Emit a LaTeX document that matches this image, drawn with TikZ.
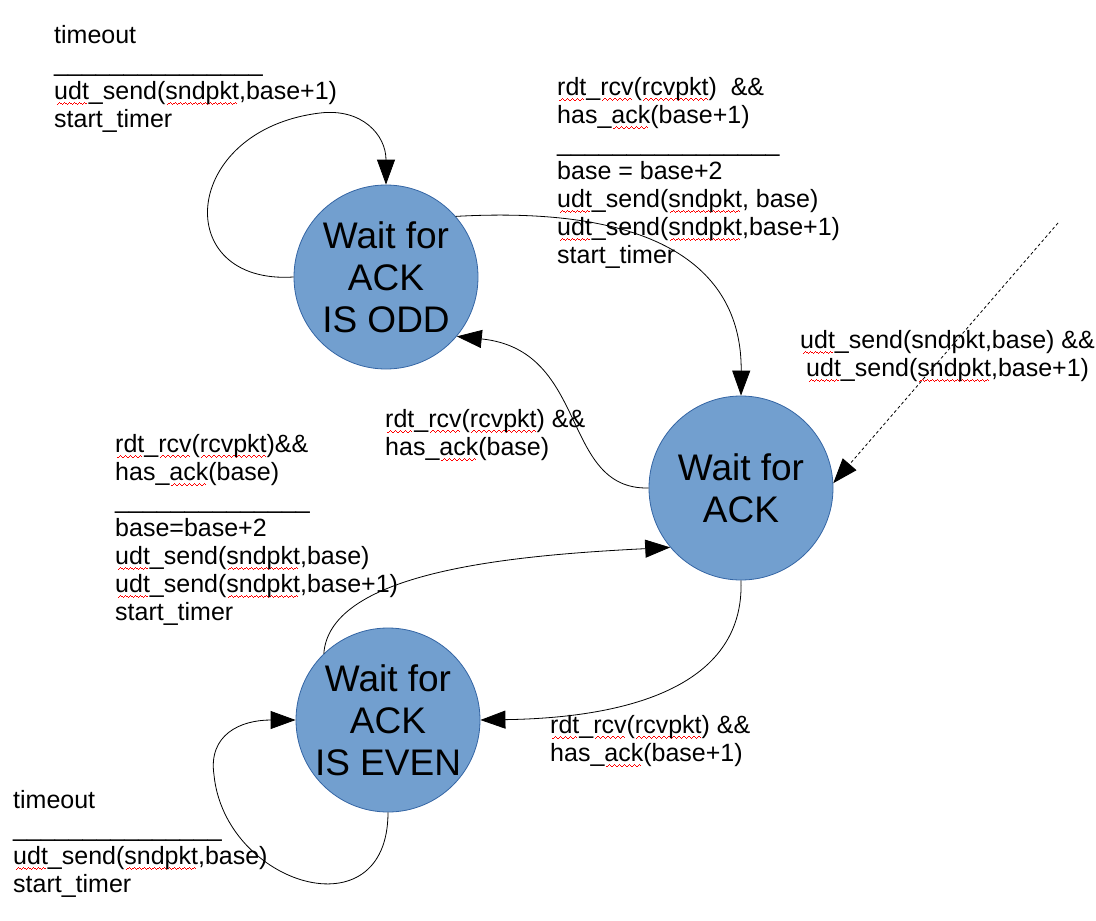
\documentclass[tikz,border=0pt]{standalone}
\usepackage{fontspec}
\setmainfont{Liberation Sans}
\usetikzlibrary{arrows.meta}

\definecolor{statefill}{HTML}{729FCF}
\definecolor{stateline}{HTML}{3465A4}
\definecolor{sqred}{HTML}{FF0000}

% red wavy spell-check underline, built from small rules
\newsavebox\sqbox
\newcommand\sqwave{\hbox{%
  \rule[-5.6pt]{1.25pt}{1.3pt}\rule[-4.7pt]{1.25pt}{1.3pt}%
  \rule[-3.8pt]{1.25pt}{1.3pt}\rule[-4.7pt]{1.25pt}{1.3pt}}}
\newcommand\sq[1]{\sbox\sqbox{#1}%
  \rlap{\textcolor{sqred}{\hbox to \wd\sqbox{\cleaders\sqwave\hfill}}}%
  \usebox\sqbox}

\tikzset{
  state/.style={circle, draw=stateline, line width=0.8pt, fill=statefill,
    minimum size=184pt, inner sep=0pt, align=center,
    font=\fontsize{37}{42}\selectfont},
  lbl/.style={anchor=north west, inner sep=0pt, align=left,
    font=\fontsize{25}{28}\selectfont},
  edge/.style={draw=black, line width=0.8pt,
    -{Triangle[length=25pt,width=18pt]}},
}

\begin{document}
\begin{tikzpicture}[x=1pt, y=-1pt]
\useasboundingbox (0,0) rectangle (1096,921);

% states
\node[state] (odd)  at (386,277) {Wait for\\ACK\\IS ODD};
\node[state] (ack)  at (741,488) {Wait for\\ACK};
\node[state] (even) at (388,720) {Wait for\\ACK\\IS EVEN};

\coordinate (init) at (1058,223);

% transitions
\draw[edge] (odd.west) .. controls (170,285) and (180,130) .. (320,113)
  .. controls (362,108) and (386,135) .. (odd.north);
\draw[edge] (odd.41) .. controls (660,205) and (742,270) .. (ack.north);
\draw[edge] (ack.west) .. controls (560,490) and (590,350) .. (odd.-40);
\draw[edge, dashed, dash pattern=on 3pt off 2.5pt] (init) -- (ack.3);
\draw[edge] (even.134) .. controls (330,570) and (520,555) .. (ack.220);
\draw[edge] (ack.south) .. controls (745,690) and (620,718) .. (even.east);
\draw[edge] (even.south) .. controls (388,935) and (225,885) .. (214,775)
  .. controls (208,735) and (240,720) .. (even.west);

% transition labels
\node[lbl] (l1) at (54,25) {timeout\\\_\_\_\_\_\_\_\_\_\_\_\_\_\_\_\\
  \sq{udt}\_send(\sq{sndpkt},base+1)\\start\_timer};
\node[lbl] (l2) at (557,77) {\sq{rdt}\_\sq{rcv}(\sq{rcvpkt})~ \&\&\\
  has\_\sq{ack}(base+1)\\\_\_\_\_\_\_\_\_\_\_\_\_\_\_\_\_\\
  base = base+2\\\sq{udt}\_send(\sq{sndpkt}, base)\\
  \sq{udt}\_send(\sq{sndpkt},base+1)\\start\_timer};
\node[lbl] (l3) at (800,330) {\sq{udt}\_send(sndpkt,base) \&\&\\
  \hspace*{6pt}\sq{udt}\_send(\sq{sndpkt},base+1)};
\node[lbl] (l4) at (385,409) {\sq{rdt}\_\sq{rcv}(\sq{rcvpkt}) \&\&\\
  has\_\sq{ack}(base)};
\node[lbl] (l5) at (115,434) {\sq{rdt}\_\sq{rcv}(\sq{rcvpkt})\&\&\\
  has\_\sq{ack}(base)\\\_\_\_\_\_\_\_\_\_\_\_\_\_\_\\
  base=base+2\\\sq{udt}\_send(\sq{sndpkt},base)\\
  \sq{udt}\_send(\sq{sndpkt},base+1)\\start\_timer};
\node[lbl] (l6) at (550,715) {\sq{rdt}\_\sq{rcv}(\sq{rcvpkt}) \&\&\\
  has\_\sq{ack}(base+1)};
\node[lbl] (l7) at (13,790) {timeout\\\_\_\_\_\_\_\_\_\_\_\_\_\_\_\_\\
  \sq{udt}\_send(\sq{sndpkt},base)\\start\_timer};
\end{tikzpicture}
\end{document}
